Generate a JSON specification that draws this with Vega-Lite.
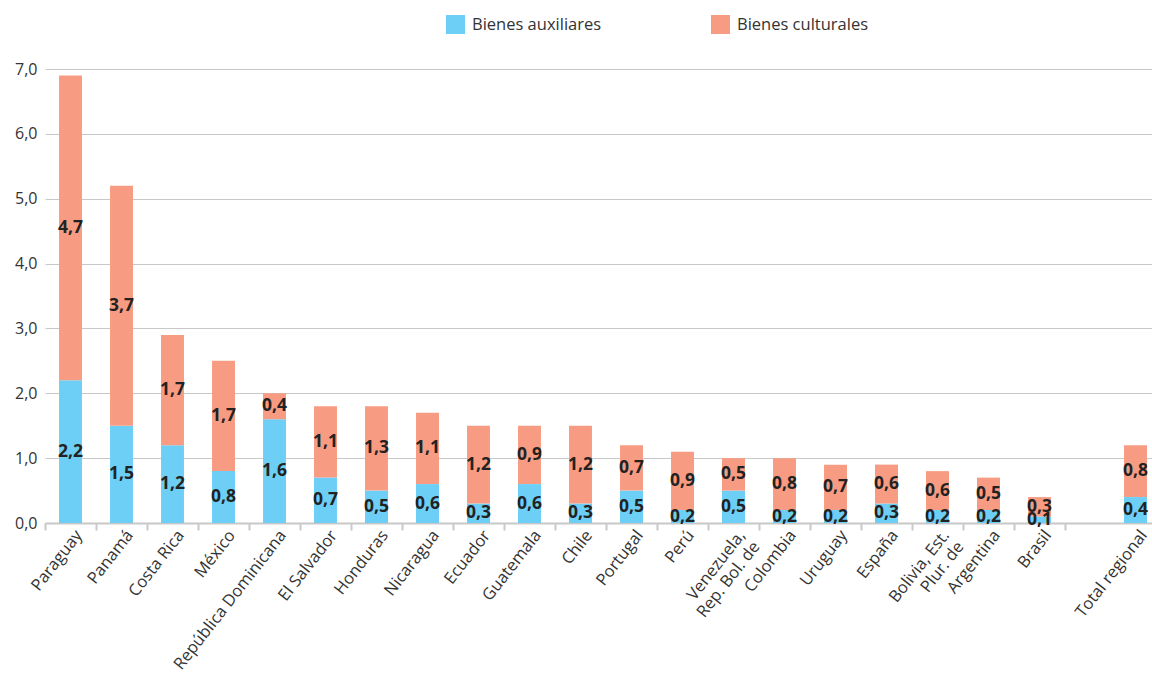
{
  "$schema": "https://vega.github.io/schema/vega-lite/v6.json",
  "autosize": {"type": "none"},
  "width": 1122,
  "height": 454,
  "padding": {"left": 45, "top": 69, "right": -15, "bottom": 153},
  "config": {
    "locale": {"number": {"decimal": ",", "thousands": ".", "grouping": [3], "currency": ["", " €"]}},
    "view": {"stroke": null},
    "font": "Open Sans"
  },
  "data": {
    "values": [
      {"pais": "Paraguay", "serie": "Bienes auxiliares", "valor": 2.2},
      {"pais": "Paraguay", "serie": "Bienes culturales", "valor": 4.7},
      {"pais": "Panamá", "serie": "Bienes auxiliares", "valor": 1.5},
      {"pais": "Panamá", "serie": "Bienes culturales", "valor": 3.7},
      {"pais": "Costa Rica", "serie": "Bienes auxiliares", "valor": 1.2},
      {"pais": "Costa Rica", "serie": "Bienes culturales", "valor": 1.7},
      {"pais": "México", "serie": "Bienes auxiliares", "valor": 0.8},
      {"pais": "México", "serie": "Bienes culturales", "valor": 1.7},
      {"pais": "República Dominicana", "serie": "Bienes auxiliares", "valor": 1.6},
      {"pais": "República Dominicana", "serie": "Bienes culturales", "valor": 0.4},
      {"pais": "El Salvador", "serie": "Bienes auxiliares", "valor": 0.7},
      {"pais": "El Salvador", "serie": "Bienes culturales", "valor": 1.1},
      {"pais": "Honduras", "serie": "Bienes auxiliares", "valor": 0.5},
      {"pais": "Honduras", "serie": "Bienes culturales", "valor": 1.3},
      {"pais": "Nicaragua", "serie": "Bienes auxiliares", "valor": 0.6},
      {"pais": "Nicaragua", "serie": "Bienes culturales", "valor": 1.1},
      {"pais": "Ecuador", "serie": "Bienes auxiliares", "valor": 0.3},
      {"pais": "Ecuador", "serie": "Bienes culturales", "valor": 1.2},
      {"pais": "Guatemala", "serie": "Bienes auxiliares", "valor": 0.6},
      {"pais": "Guatemala", "serie": "Bienes culturales", "valor": 0.9},
      {"pais": "Chile", "serie": "Bienes auxiliares", "valor": 0.3},
      {"pais": "Chile", "serie": "Bienes culturales", "valor": 1.2},
      {"pais": "Portugal", "serie": "Bienes auxiliares", "valor": 0.5},
      {"pais": "Portugal", "serie": "Bienes culturales", "valor": 0.7},
      {"pais": "Perú", "serie": "Bienes auxiliares", "valor": 0.2},
      {"pais": "Perú", "serie": "Bienes culturales", "valor": 0.9},
      {"pais": "Venezuela, Rep. Bol. de", "serie": "Bienes auxiliares", "valor": 0.5},
      {"pais": "Venezuela, Rep. Bol. de", "serie": "Bienes culturales", "valor": 0.5},
      {"pais": "Colombia", "serie": "Bienes auxiliares", "valor": 0.2},
      {"pais": "Colombia", "serie": "Bienes culturales", "valor": 0.8},
      {"pais": "Uruguay", "serie": "Bienes auxiliares", "valor": 0.2},
      {"pais": "Uruguay", "serie": "Bienes culturales", "valor": 0.7},
      {"pais": "España", "serie": "Bienes auxiliares", "valor": 0.3},
      {"pais": "España", "serie": "Bienes culturales", "valor": 0.6},
      {"pais": "Bolivia, Est. Plur. de", "serie": "Bienes auxiliares", "valor": 0.2},
      {"pais": "Bolivia, Est. Plur. de", "serie": "Bienes culturales", "valor": 0.6},
      {"pais": "Argentina", "serie": "Bienes auxiliares", "valor": 0.2},
      {"pais": "Argentina", "serie": "Bienes culturales", "valor": 0.5},
      {"pais": "Brasil", "serie": "Bienes auxiliares", "valor": 0.1},
      {"pais": "Brasil", "serie": "Bienes culturales", "valor": 0.3},
      {"pais": "Total regional", "serie": "Bienes auxiliares", "valor": 0.4},
      {"pais": "Total regional", "serie": "Bienes culturales", "valor": 0.8}
    ]
  },
  "transform": [
    {"stack": "valor", "groupby": ["pais"], "sort": [{"field": "serie", "order": "ascending"}], "as": ["v0", "v1"]},
    {"calculate": "(datum.v0 + datum.v1) / 2", "as": "mid"}
  ],
  "encoding": {
    "x": {
      "field": "pais",
      "type": "nominal",
      "sort": null,
      "title": null,
      "scale": {
        "domain": ["Paraguay", "Panamá", "Costa Rica", "México", "República Dominicana", "El Salvador", "Honduras", "Nicaragua", "Ecuador", "Guatemala", "Chile", "Portugal", "Perú", "Venezuela, Rep. Bol. de", "Colombia", "Uruguay", "España", "Bolivia, Est. Plur. de", "Argentina", "Brasil", " ", "Total regional"],
        "paddingInner": 0.55,
        "paddingOuter": 0.275
      },
      "axis": {
        "domainColor": "#c8c8c8",
        "domainWidth": 2,
        "tickColor": {"condition": {"test": "datum.value === 'Total regional'", "value": "transparent"}, "value": "#c8c8c8"},
        "tickWidth": 2,
        "tickSize": 7,
        "tickOffset": -25.5,
        "labelOffset": {"condition": {"test": "datum.value === 'Total regional'", "value": 27.5}, "value": 33.5},
        "labelAngle": -52,
        "labelAlign": "right",
        "labelBaseline": "middle",
        "labelPadding": 2,
        "labelFontSize": 16.5,
        "labelColor": "#333333",
        "labelFont": "Open Sans",
        "labelLimit": 300,
        "labelExpr": "datum.value === 'Venezuela, Rep. Bol. de' ? ['Venezuela,', 'Rep. Bol. de'] : datum.value === 'Bolivia, Est. Plur. de' ? ['Bolivia, Est.', 'Plur. de'] : datum.label"
      }
    }
  },
  "layer": [
    {
      "mark": {"type": "bar", "xOffset": {"expr": "datum.pais === 'Total regional' ? -6 : 0"}},
      "encoding": {
        "y": {
          "field": "v0",
          "type": "quantitative",
          "title": null,
          "scale": {"domain": [0, 7], "nice": false},
          "axis": {
            "values": [0, 1, 2, 3, 4, 5, 6, 7],
            "format": ".1f",
            "domain": false,
            "ticks": false,
            "gridColor": "#c8c8c8",
            "gridWidth": 1,
            "labelPadding": 8,
            "labelFontSize": 16,
            "labelColor": "#333333",
            "labelFont": "Open Sans"
          }
        },
        "y2": {"field": "v1"},
        "color": {
          "field": "serie",
          "type": "nominal",
          "scale": {"domain": ["Bienes auxiliares", "Bienes culturales"], "range": ["#6DCFF6", "#F79C83"]},
          "legend": {
            "title": null,
            "orient": "none",
            "direction": "horizontal",
            "legendX": 401,
            "legendY": -54,
            "symbolType": "square",
            "symbolSize": 361,
            "symbolStrokeWidth": 0,
            "symbolOpacity": 1,
            "labelFontSize": 16.5,
            "labelColor": "#333333",
            "labelFont": "Open Sans",
            "labelOffset": 7,
            "columnPadding": 109
          }
        }
      }
    },
    {
      "mark": {"type": "text", "fontWeight": "bold", "fontSize": 17.5, "color": "#222222", "font": "Open Sans", "xOffset": {"expr": "datum.pais === 'Total regional' ? -6 : 0"}},
      "encoding": {
        "y": {"field": "mid", "type": "quantitative"},
        "text": {"field": "valor", "type": "quantitative", "format": ".1f"}
      }
    }
  ]
}
